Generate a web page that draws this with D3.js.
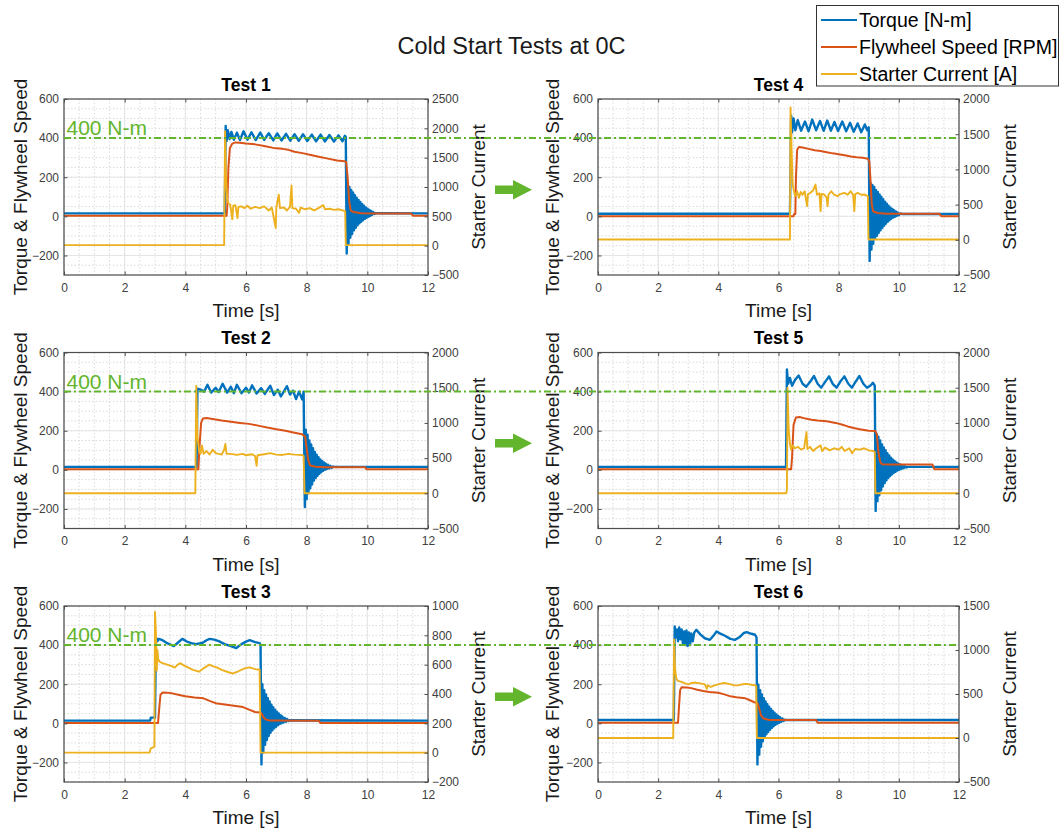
<!DOCTYPE html>
<html>
<head>
<meta charset="utf-8">
<script src="https://cdn.jsdelivr.net/npm/d3@7"></script>
<style>
  html, body { margin: 0; padding: 0; background: #fff; }
  svg { display: block; }
</style>
</head>
<body>
<svg id="chart" width="1061" height="829"></svg>
<script>
// ---------------- DATA ----------------
const mainTitle = "Cold Start Tests at 0C";
const testTitles = ["Test 1", "Test 2", "Test 3", "Test 4", "Test 5", "Test 6"];
const legendLabels = ["Torque [N-m]", "Flywheel Speed [RPM]", "Starter Current [A]"];
const leftLabel = "Torque & Flywheel Speed";
const rightLabel = "Starter Current";
const xLabel = "Time [s]";
const thresholdValue = 400;
const thresholdLabel = "400 N-m";

const timeTicks = [0, 2, 4, 6, 8, 10, 12];
const leftTicks = [-200, 0, 200, 400, 600];
const leftDomain = [-300, 600];
const rightTicks1 = [-500, 0, 500, 1000, 1500, 2000, 2500];
const rightTicks2 = [-500, 0, 500, 1000, 1500, 2000];
const rightTicks3 = [-200, 0, 200, 400, 600, 800, 1000];
const rightTicks4 = [-500, 0, 500, 1000, 1500, 2000];
const rightTicks5 = [-500, 0, 500, 1000, 1500, 2000];
const rightTicks6 = [-500, 0, 500, 1000, 1500];

// [time s, value]
const t1Torque = [[0,15],[5.30,15],[5.33,462],[5.36,385],[5.40,440],[5.46,395],[5.52,432],[5.60,392],[5.70,428],[5.80,390],[5.92,435],[6.05,392],[6.18,430],[6.32,390],[6.47,428],[6.60,391],[6.75,425],[6.90,388],[7.03,424],[7.17,388],[7.32,422],[7.46,387],[7.60,420],[7.74,386],[7.88,420],[8.02,385],[8.17,418],[8.31,384],[8.46,418],[8.60,383],[8.75,416],[8.90,382],[9.05,414],[9.18,384],[9.26,412],[9.29,405],
  [9.32,-190],[9.35,160],[9.38,-140],[9.41,150],[9.44,-110],[9.47,135],[9.50,-90],[9.53,122],[9.56,-72],[9.59,108],[9.62,-58],[9.65,95],[9.68,-46],[9.71,84],[9.74,-36],[9.77,73],[9.80,-28],[9.83,63],[9.86,-20],[9.89,54],[9.92,-13],[9.95,46],[9.98,-7],[10.01,39],[10.04,-2],[10.07,33],[10.10,3],[10.13,27],[10.16,8],[10.20,22],[10.24,12],[10.28,16],[12,15]];
const t1Speed = [[0,3],[5.36,3],[5.38,40],[5.42,250],[5.47,350],[5.55,372],[5.65,378],[5.80,376],[6.00,372],[6.30,368],[6.60,360],[6.90,350],[7.20,345],[7.40,340],[7.60,330],[7.90,322],[8.10,315],[8.40,305],[8.70,295],[9.00,285],[9.25,282],[9.30,278],[9.35,200],[9.40,80],[9.45,30],[9.55,22],[9.80,16],[10.2,14],[11.45,14],[11.5,3],[12,3]];
const t1Current = [[0,10],[5.28,10],[5.31,1950],[5.34,1200],[5.38,800],[5.42,720],[5.48,700],[5.55,450],[5.58,680],[5.65,690],[5.72,470],[5.75,660],[5.85,670],[5.95,640],[6.05,680],[6.15,630],[6.30,660],[6.45,640],[6.60,670],[6.75,600],[6.85,650],[6.98,300],[7.00,650],[7.08,870],[7.12,640],[7.25,650],[7.35,600],[7.45,660],[7.50,1025],[7.53,640],[7.65,630],[7.75,560],[7.80,650],[7.95,620],[8.10,640],[8.25,600],[8.40,645],[8.55,690],[8.60,620],[8.75,630],[8.90,610],[9.05,620],[9.20,600],[9.27,590],[9.29,10],[12,10]];

const t2Torque = [[0,15],[4.37,15],[4.40,415],[4.50,410],[4.62,400],[4.73,435],[4.85,395],[5.00,420],[5.10,398],[5.23,440],[5.38,395],[5.50,425],[5.60,392],[5.70,435],[5.85,392],[6.00,420],[6.10,395],[6.20,432],[6.35,390],[6.50,418],[6.62,388],[6.80,430],[6.92,382],[7.05,410],[7.15,375],[7.35,428],[7.45,385],[7.55,405],[7.65,362],[7.75,400],[7.85,360],[7.90,400],
  [7.94,-190],[7.97,205],[8.00,-150],[8.03,180],[8.06,-120],[8.09,150],[8.12,-95],[8.15,130],[8.18,-75],[8.21,110],[8.24,-55],[8.27,92],[8.30,-42],[8.33,78],[8.36,-30],[8.39,65],[8.42,-20],[8.45,53],[8.48,-12],[8.51,45],[8.54,-5],[8.57,38],[8.60,0],[8.63,32],[8.66,4],[8.70,26],[8.74,7],[8.78,21],[8.82,10],[8.86,17],[8.90,15],[12,15]];
const t2Speed = [[0,3],[4.43,3],[4.46,100],[4.52,240],[4.58,262],[4.70,265],[4.90,260],[5.20,252],[5.50,246],[5.80,240],[6.10,235],[6.40,226],[6.70,216],[7.00,208],[7.30,200],[7.60,190],[7.85,182],[7.95,170],[8.00,110],[8.05,50],[8.12,22],[8.30,16],[8.60,13],[9.93,13],[9.97,3],[12,3]];
const t2Current = [[0,0],[4.33,0],[4.36,1530],[4.40,800],[4.45,620],[4.50,560],[4.55,680],[4.60,560],[4.70,600],[4.80,550],[4.90,620],[5.00,570],[5.10,560],[5.20,550],[5.28,620],[5.32,700],[5.36,560],[5.50,560],[5.70,545],[5.90,560],[6.00,540],[6.20,555],[6.30,530],[6.35,390],[6.38,540],[6.60,555],[6.80,570],[7.00,550],[7.20,545],[7.40,560],[7.60,550],[7.85,545],[7.90,530],[7.93,0],[12,0]];

const t3Torque = [[0,14],[2.84,14],[2.86,29],[3.00,29],[3.03,440],[3.08,420],[3.12,432],[3.25,425],[3.40,410],[3.55,400],[3.62,395],[3.75,412],[3.90,432],[4.05,418],[4.20,410],[4.35,405],[4.57,412],[4.70,425],[4.80,432],[4.95,428],[5.10,420],[5.30,405],[5.50,395],[5.68,385],[5.85,405],[6.00,418],[6.12,425],[6.30,415],[6.45,410],[6.48,400],
  [6.51,-210],[6.54,200],[6.57,-150],[6.60,170],[6.63,-110],[6.66,148],[6.69,-85],[6.72,128],[6.75,-65],[6.78,112],[6.81,-48],[6.84,95],[6.87,-36],[6.90,82],[6.93,-26],[6.96,70],[6.99,-18],[7.02,60],[7.05,-10],[7.08,50],[7.11,-4],[7.14,42],[7.17,0],[7.20,35],[7.24,4],[7.28,28],[7.32,8],[7.36,22],[7.40,12],[7.44,16],[12,14]];
const t3Speed = [[0,2],[3.10,2],[3.13,60],[3.18,145],[3.25,158],[3.40,157],[3.60,152],[3.80,145],[4.00,138],[4.30,132],[4.60,128],[4.80,115],[5.00,103],[5.30,96],[5.60,90],[5.90,83],[6.10,70],[6.30,58],[6.48,55],[6.52,48],[6.58,30],[6.65,20],[6.80,14],[8.40,13],[8.45,2],[12,2]];
const t3Current = [[0,0],[2.82,0],[2.86,30],[2.98,40],[3.00,960],[3.03,820],[3.06,560],[3.08,700],[3.10,640],[3.15,620],[3.25,610],[3.40,600],[3.55,590],[3.65,580],[3.75,600],[3.84,610],[3.95,595],[4.10,580],[4.25,565],[4.45,552],[4.60,575],[4.79,600],[4.90,590],[5.05,580],[5.20,565],[5.40,550],[5.57,540],[5.75,555],[5.95,575],[6.12,582],[6.30,570],[6.45,565],[6.48,0],[12,0]];

const t4Torque = [[0,13],[6.38,13],[6.42,515],[6.45,430],[6.50,500],[6.56,440],[6.64,492],[6.75,438],[6.88,485],[7.00,435],[7.12,495],[7.25,440],[7.38,488],[7.50,437],[7.62,490],[7.74,438],[7.86,483],[7.98,436],[8.12,485],[8.25,435],[8.38,478],[8.50,432],[8.63,475],[8.75,430],[8.87,470],[8.95,440],[9.00,455],
  [9.03,-228],[9.06,170],[9.09,-170],[9.12,160],[9.15,-140],[9.18,150],[9.21,-115],[9.24,135],[9.27,-100],[9.30,125],[9.33,-85],[9.36,112],[9.39,-72],[9.42,100],[9.45,-60],[9.48,88],[9.51,-48],[9.54,75],[9.57,-38],[9.60,65],[9.63,-28],[9.66,55],[9.69,-20],[9.72,45],[9.75,-12],[9.78,38],[9.81,-6],[9.84,32],[9.87,-2],[9.90,25],[9.93,2],[9.96,20],[10.0,6],[10.05,15],[10.1,12],[12,12]];
const t4Speed = [[0,0],[6.50,0],[6.52,12],[6.56,12],[6.58,200],[6.62,340],[6.68,355],[6.80,352],[7.00,345],[7.20,338],[7.40,334],[7.60,328],[7.80,322],[8.00,318],[8.20,312],[8.40,306],[8.60,302],[8.80,300],[8.97,295],[9.02,280],[9.06,180],[9.10,60],[9.15,25],[9.30,17],[9.60,13],[11.35,13],[11.42,0],[12,0]];
const t4Current = [[0,5],[6.38,5],[6.40,1880],[6.44,1200],[6.47,800],[6.50,714],[6.56,620],[6.62,690],[6.68,596],[6.74,680],[6.80,640],[6.87,690],[6.95,478],[6.98,650],[7.06,667],[7.15,700],[7.23,785],[7.28,640],[7.36,660],[7.40,407],[7.43,650],[7.52,643],[7.60,600],[7.63,478],[7.66,640],[7.75,690],[7.85,640],[7.96,620],[8.05,650],[8.19,667],[8.30,640],[8.40,690],[8.48,640],[8.52,407],[8.55,650],[8.63,667],[8.75,640],[8.86,643],[8.92,630],[8.97,620],[8.99,5],[12,5]];

const t5Torque = [[0,15],[6.25,15],[6.28,513],[6.32,440],[6.38,470],[6.45,430],[6.55,460],[6.67,482],[6.80,440],[6.92,425],[7.05,450],[7.18,480],[7.30,440],[7.42,420],[7.55,450],[7.68,478],[7.80,440],[7.93,420],[8.05,450],[8.19,478],[8.32,440],[8.44,420],[8.56,450],[8.69,480],[8.82,440],[8.94,420],[9.05,430],[9.14,445],[9.20,430],
  [9.23,-210],[9.26,185],[9.29,-160],[9.32,170],[9.35,-130],[9.38,150],[9.41,-105],[9.44,130],[9.47,-85],[9.50,115],[9.53,-68],[9.56,100],[9.59,-54],[9.62,85],[9.65,-42],[9.68,73],[9.71,-32],[9.74,62],[9.77,-24],[9.80,53],[9.83,-16],[9.86,45],[9.89,-10],[9.92,38],[9.95,-4],[9.98,32],[10.01,0],[10.04,27],[10.08,4],[10.12,22],[10.16,8],[10.20,18],[10.25,12],[10.30,15],[12,15]];
const t5Speed = [[0,3],[6.42,3],[6.45,60],[6.50,230],[6.58,268],[6.70,270],[6.90,262],[7.10,256],[7.30,252],[7.60,248],[7.90,240],[8.10,232],[8.30,222],[8.50,214],[8.70,208],[9.00,200],[9.22,198],[9.27,180],[9.32,90],[9.38,40],[9.45,28],[9.70,27],[11.12,27],[11.18,3],[12,3]];
const t5Current = [[0,0],[6.26,0],[6.28,60],[6.30,1500],[6.34,900],[6.38,700],[6.42,620],[6.46,680],[6.55,640],[6.65,660],[6.75,620],[6.85,640],[6.93,870],[6.96,630],[7.05,660],[7.15,600],[7.25,640],[7.40,680],[7.45,600],[7.55,650],[7.70,610],[7.85,640],[8.00,620],[8.10,660],[8.20,600],[8.35,640],[8.45,570],[8.55,630],[8.70,620],[8.85,640],[9.00,610],[9.15,600],[9.20,590],[9.22,0],[12,0]];

const t6Torque = [[0,17],[2.52,17],[2.55,495],[2.58,440],[2.62,480],[2.66,420],[2.70,490],[2.74,430],[2.78,480],[2.82,410],[2.86,470],[2.90,400],[2.94,475],[2.98,395],[3.02,465],[3.06,400],[3.10,460],[3.15,420],[3.20,465],[3.27,478],[3.40,455],[3.55,435],[3.72,427],[3.85,450],[3.94,470],[4.05,460],[4.22,448],[4.40,432],[4.55,427],[4.70,440],[4.85,462],[4.94,466],[5.10,458],[5.22,453],[5.27,440],
  [5.30,-210],[5.33,198],[5.36,-160],[5.39,170],[5.42,-120],[5.45,148],[5.48,-92],[5.51,128],[5.54,-72],[5.57,112],[5.60,-56],[5.63,98],[5.66,-44],[5.69,85],[5.72,-33],[5.75,73],[5.78,-24],[5.81,63],[5.84,-15],[5.87,54],[5.90,-8],[5.93,46],[5.96,-2],[5.99,38],[6.02,3],[6.05,32],[6.09,8],[6.13,25],[6.17,12],[6.21,19],[6.25,17],[12,17]];
const t6Speed = [[0,3],[2.66,3],[2.69,80],[2.73,170],[2.78,185],[2.95,183],[3.10,180],[3.30,172],[3.50,165],[3.70,160],[4.00,156],[4.20,148],[4.40,138],[4.60,133],[4.90,128],[5.05,118],[5.20,108],[5.30,103],[5.35,80],[5.42,40],[5.50,25],[5.70,17],[7.25,17],[7.30,3],[12,3]];
const t6Current = [[0,0],[2.50,0],[2.53,1120],[2.56,800],[2.60,680],[2.65,650],[2.75,640],[2.90,620],[3.00,610],[3.10,625],[3.25,630],[3.40,620],[3.55,610],[3.62,560],[3.65,600],[3.75,580],[3.90,600],[4.05,615],[4.20,625],[4.35,615],[4.50,600],[4.65,598],[4.80,610],[4.95,615],[5.10,605],[5.22,600],[5.26,590],[5.28,0],[12,0]];

// ---------------- LAYOUT ----------------
const W = 1061, H = 829;
const FONT = "'Liberation Sans', Arial, Helvetica, sans-serif";
const colLeft = [64, 598], colWidth = [364, 361];
const rowTop = [99, 352.5, 606], plotH = 176;
const COLORS = ["#0072BD", "#D95319", "#EDB120"];
const GREEN = "#62b52c";
const AXC = "#4d4d4d";

const panels = [
  { title: testTitles[0], col: 0, row: 0, torque: t1Torque, speed: t1Speed, current: t1Current, rTicks: rightTicks1 },
  { title: testTitles[1], col: 0, row: 1, torque: t2Torque, speed: t2Speed, current: t2Current, rTicks: rightTicks2 },
  { title: testTitles[2], col: 0, row: 2, torque: t3Torque, speed: t3Speed, current: t3Current, rTicks: rightTicks3 },
  { title: testTitles[3], col: 1, row: 0, torque: t4Torque, speed: t4Speed, current: t4Current, rTicks: rightTicks4 },
  { title: testTitles[4], col: 1, row: 1, torque: t5Torque, speed: t5Speed, current: t5Current, rTicks: rightTicks5 },
  { title: testTitles[5], col: 1, row: 2, torque: t6Torque, speed: t6Speed, current: t6Current, rTicks: rightTicks6 }
];

const svg = d3.select("#chart");
svg.append("rect").attr("width", W).attr("height", H).attr("fill", "#fff");
const defs = svg.append("defs");

function styleAxis(sel) {
  sel.select(".domain").remove();
  sel.selectAll(".tick line").attr("stroke", AXC).attr("stroke-width", 1);
  sel.selectAll(".tick text").attr("fill", "#404040").attr("font-size", 12).attr("font-family", FONT);
}

panels.forEach((p, i) => {
  const x0 = colLeft[p.col], y0 = rowTop[p.row], w = colWidth[p.col];
  const g = svg.append("g").attr("transform", `translate(${x0},${y0})`);
  const x = d3.scaleLinear().domain([timeTicks[0], timeTicks[timeTicks.length - 1]]).range([0, w]);
  const yL = d3.scaleLinear().domain(leftDomain).range([plotH, 0]);
  const yR = d3.scaleLinear().domain([p.rTicks[0], p.rTicks[p.rTicks.length - 1]]).range([plotH, 0]);

  // minor grid (dotted)
  const gm = g.append("g");
  gm.selectAll("line.mx").data(x.ticks(24)).join("line")
    .attr("x1", d => x(d)).attr("x2", d => x(d)).attr("y1", 0).attr("y2", plotH)
    .attr("stroke", "#d2d2d2").attr("stroke-width", 0.8).attr("stroke-dasharray", "1.5,2");
  gm.selectAll("line.my").data(yL.ticks(18)).join("line")
    .attr("y1", d => yL(d)).attr("y2", d => yL(d)).attr("x1", 0).attr("x2", w)
    .attr("stroke", "#d2d2d2").attr("stroke-width", 0.8).attr("stroke-dasharray", "1.5,2");
  // major grid
  const gM = g.append("g");
  gM.selectAll("line.Mx").data(timeTicks).join("line")
    .attr("x1", d => x(d)).attr("x2", d => x(d)).attr("y1", 0).attr("y2", plotH)
    .attr("stroke", "#e2e2e2").attr("stroke-width", 0.8);
  gM.selectAll("line.My").data(leftTicks).join("line")
    .attr("y1", d => yL(d)).attr("y2", d => yL(d)).attr("x1", 0).attr("x2", w)
    .attr("stroke", "#e2e2e2").attr("stroke-width", 0.8);

  // clip
  const cid = "clip" + i;
  defs.append("clipPath").attr("id", cid).append("rect").attr("width", w).attr("height", plotH);
  const lines = g.append("g").attr("clip-path", `url(#${cid})`);

  const lineL = d3.line().x(d => x(d[0])).y(d => yL(d[1]));
  const lineR = d3.line().x(d => x(d[0])).y(d => yR(d[1]));
  lines.append("path").datum(p.torque).attr("d", lineL).attr("fill", "none")
    .attr("stroke", COLORS[0]).attr("stroke-width", 2.4).attr("stroke-linejoin", "round");
  lines.append("path").datum(p.speed).attr("d", lineL).attr("fill", "none")
    .attr("stroke", COLORS[1]).attr("stroke-width", 2).attr("stroke-linejoin", "round");
  lines.append("path").datum(p.current).attr("d", lineR).attr("fill", "none")
    .attr("stroke", COLORS[2]).attr("stroke-width", 1.9).attr("stroke-linejoin", "round");

  // axes (inward ticks)
  g.append("g").attr("transform", `translate(0,${plotH})`)
    .call(d3.axisBottom(x).tickValues(timeTicks).tickSize(-3.5).tickPadding(8).tickFormat(d3.format("d")))
    .call(styleAxis);
  g.append("g")
    .call(d3.axisTop(x).tickValues(timeTicks).tickSize(-3.5).tickFormat(""))
    .call(styleAxis);
  g.append("g")
    .call(d3.axisLeft(yL).tickValues(leftTicks).tickSize(-3.5).tickPadding(5).tickFormat(d3.format("d")))
    .call(styleAxis);
  g.append("g").attr("transform", `translate(${w},0)`)
    .call(d3.axisRight(yR).tickValues(p.rTicks).tickSize(-3.5).tickPadding(4).tickFormat(d3.format("d")))
    .call(styleAxis);

  // box
  g.append("rect").attr("width", w).attr("height", plotH).attr("fill", "none")
    .attr("stroke", AXC).attr("stroke-width", 1.2);

  // titles and labels
  g.append("text").attr("x", w / 2).attr("y", -8.5).attr("text-anchor", "middle")
    .attr("font-family", FONT).attr("font-size", 17.5).attr("font-weight", "bold").attr("fill", "#000")
    .text(p.title);
  g.append("text").attr("x", w / 2).attr("y", plotH + 42).attr("text-anchor", "middle")
    .attr("font-family", FONT).attr("font-size", 19).attr("fill", "#1a1a1a").text(xLabel);
  g.append("text").attr("transform", `translate(${p.col === 0 ? -37.5 : -39},${plotH / 2}) rotate(-90)`)
    .attr("text-anchor", "middle").attr("font-family", FONT).attr("font-size", 19).attr("fill", "#1a1a1a")
    .text(leftLabel);
  g.append("text").attr("transform", `translate(${w + 57},${plotH / 2}) rotate(-90)`)
    .attr("text-anchor", "middle").attr("font-family", FONT).attr("font-size", 19).attr("fill", "#1a1a1a")
    .text(rightLabel);
});

// threshold lines, labels and arrows per row
const yThr = d3.scaleLinear().domain(leftDomain).range([plotH, 0]);
rowTop.forEach((top, r) => {
  const yy = top + yThr(thresholdValue);
  svg.append("line").attr("x1", colLeft[0]).attr("x2", colLeft[1] + colWidth[1])
    .attr("y1", yy).attr("y2", yy).attr("stroke", GREEN).attr("stroke-width", 2)
    .attr("stroke-dasharray", "7,3,2,3");
  svg.append("text").attr("x", colLeft[0] + 2.5).attr("y", yy - 3).attr("font-family", FONT)
    .attr("font-size", 21).attr("fill", GREEN).text(thresholdLabel);
  const cy = top + plotH / 2 + 2.7;
  const pts = [[495, cy - 4.2], [513, cy - 4.2], [513, cy - 9.7], [532, cy], [513, cy + 9.7], [513, cy + 4.2], [495, cy + 4.2]];
  svg.append("path").attr("d", d3.line()(pts) + "Z").attr("fill", GREEN);
});

// main title
svg.append("text").attr("x", 511.5).attr("y", 53.5).attr("text-anchor", "middle")
  .attr("font-family", FONT).attr("font-size", 23.5).attr("fill", "#1a1a1a").text(mainTitle);

// legend
const lg = svg.append("g");
lg.append("rect").attr("x", 816.5).attr("y", 5.5).attr("width", 242).attr("height", 80.5)
  .attr("fill", "#fff").attr("stroke", "#333").attr("stroke-width", 1);
const legendY = [20, 47, 74];
legendLabels.forEach((lab, k) => {
  lg.append("line").attr("x1", 821).attr("x2", 857).attr("y1", legendY[k]).attr("y2", legendY[k])
    .attr("stroke", COLORS[k]).attr("stroke-width", 1.8);
  lg.append("text").attr("x", 859).attr("y", legendY[k] + 6.8).attr("font-family", FONT)
    .attr("font-size", 19.5).attr("fill", "#000").text(lab);
});
</script>
</body>
</html>
